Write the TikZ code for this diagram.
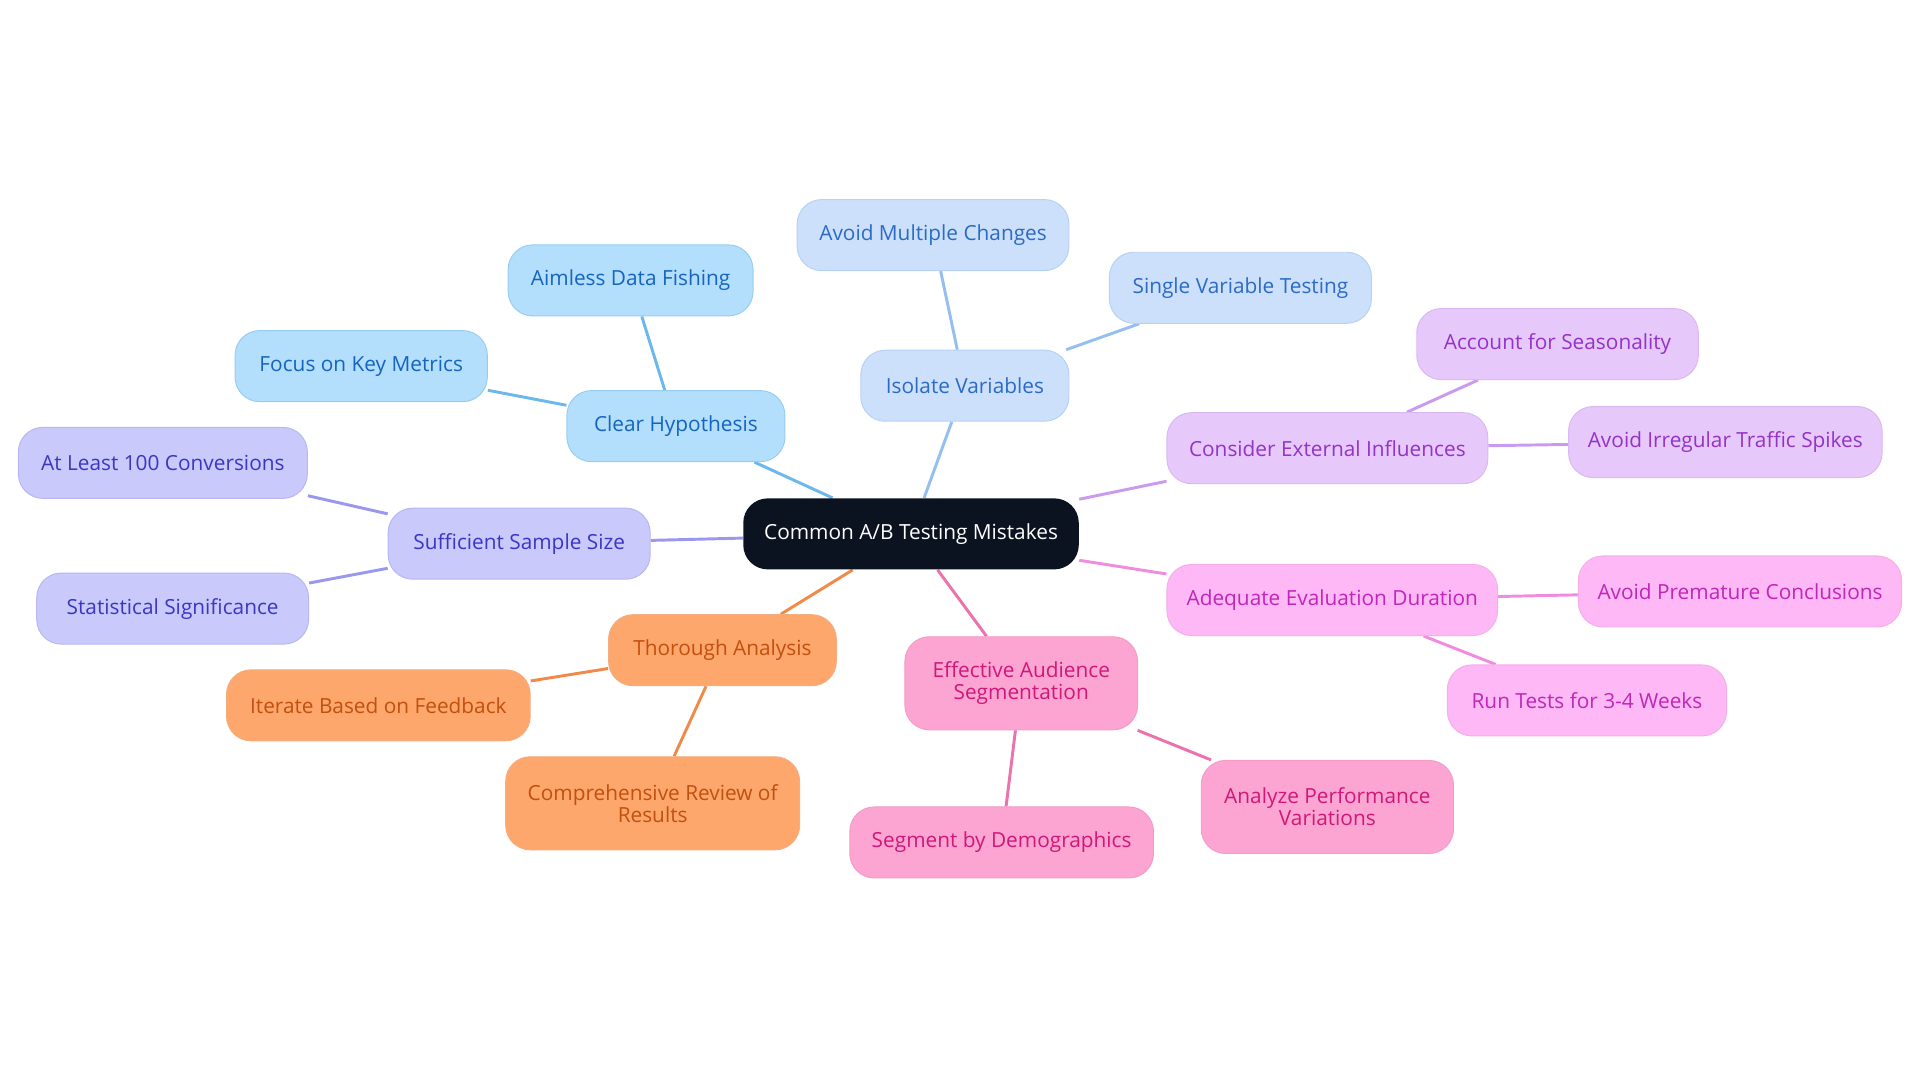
\documentclass[tikz,border=0pt]{standalone}
\usepackage{fontspec}
\setmainfont{Open Sans}
\usetikzlibrary{backgrounds}
\definecolor{rootfill}{HTML}{0B1220}
\definecolor{hypfill}{HTML}{B3DEFC}\definecolor{hypline}{HTML}{6CB8EC}\definecolor{hyptext}{HTML}{1565C0}
\definecolor{isofill}{HTML}{CCE0FB}\definecolor{isoline}{HTML}{94BFEF}\definecolor{isotext}{HTML}{2C6BC5}
\definecolor{extfill}{HTML}{E6C8FA}\definecolor{extline}{HTML}{C99AEE}\definecolor{exttext}{HTML}{9333C8}
\definecolor{durfill}{HTML}{FDB8F5}\definecolor{durline}{HTML}{F08CE0}\definecolor{durtext}{HTML}{C026B8}
\definecolor{segfill}{HTML}{FCA5D2}\definecolor{segline}{HTML}{EC72AE}\definecolor{segtext}{HTML}{D0177A}
\definecolor{anafill}{HTML}{FDA76C}\definecolor{analine}{HTML}{EF8A4A}\definecolor{anatext}{HTML}{C2500F}
\definecolor{samfill}{HTML}{C9C9FB}\definecolor{samline}{HTML}{9A98EE}\definecolor{samtext}{HTML}{3A37C4}

\begin{document}
\begin{tikzpicture}[x=0.5pt,y=-0.5pt,
  box/.style={rounded corners=10pt, minimum height=29pt, align=center, inner sep=2pt,
    font=\fontsize{8.5}{9}\selectfont},
  hyp/.style={box, fill=hypfill, draw=hypline!70, text=hyptext},
  iso/.style={box, fill=isofill, draw=isoline!70, text=isotext},
  ext/.style={box, fill=extfill, draw=extline!70, text=exttext},
  dur/.style={box, fill=durfill, draw=durline!70, text=durtext},
  seg/.style={box, fill=segfill, draw=segline!70, text=segtext},
  ana/.style={box, fill=anafill, draw=analine!70, text=anatext},
  sam/.style={box, fill=samfill, draw=samline!70, text=samtext},
  link/.style={line width=1.2pt}]

\useasboundingbox (0,0) rectangle (1568,884);

\node[box, fill=rootfill, text=white, minimum width=137pt] (root) at (744,436) {Common A/B Testing Mistakes};

\node[hyp, minimum width=89pt] (hyp) at (552,348) {Clear Hypothesis};
\node[hyp, minimum width=100pt] (fish) at (515,229) {Aimless Data Fishing};
\node[hyp, minimum width=103pt] (keym) at (295,299) {Focus on Key Metrics};

\node[iso, minimum width=85pt] (iso) at (788,315) {Isolate Variables};
\node[iso, minimum width=111pt] (multi) at (762,192) {Avoid Multiple Changes};
\node[iso, minimum width=107pt] (single) at (1013,235) {Single Variable Testing};

\node[ext, minimum width=131pt] (ext) at (1084,366) {Consider External Influences};
\node[ext, minimum width=115pt] (season) at (1272,281) {Account for Seasonality};
\node[ext, minimum width=128pt] (spike) at (1409,361) {Avoid Irregular Traffic Spikes};

\node[dur, minimum width=135pt] (dur) at (1088,490) {Adequate Evaluation Duration};
\node[dur, minimum width=132pt] (prem) at (1421,483) {Avoid Premature Conclusions};
\node[dur, minimum width=114pt] (weeks) at (1296,572) {Run Tests for 3-4 Weeks};

\node[seg, minimum width=95pt, minimum height=38pt] (seg) at (834,558) {Effective Audience\\Segmentation};
\node[seg, minimum width=124pt] (demo) at (818,688) {Segment by Demographics};
\node[seg, minimum width=103pt, minimum height=38pt] (perf) at (1084,659) {Analyze Performance\\Variations};

\node[ana, minimum width=93pt] (ana) at (590,531) {Thorough Analysis};
\node[ana, minimum width=124pt] (iter) at (309,576) {Iterate Based on Feedback};
\node[ana, minimum width=120pt, minimum height=38pt] (review) at (533,656) {Comprehensive Review of\\Results};

\node[sam, minimum width=107pt] (sam) at (424,444) {Sufficient Sample Size};
\node[sam, minimum width=118pt] (conv) at (133,378) {At Least 100 Conversions};
\node[sam, minimum width=111pt] (stat) at (141,497) {Statistical Significance};

\begin{scope}[on background layer]
\draw[link, hypline] (root) -- (hyp) (hyp) -- (fish) (hyp) -- (keym);
\draw[link, isoline] (root) -- (iso) (iso) -- (multi) (iso) -- (single);
\draw[link, extline] (root) -- (ext) (ext) -- (season) (ext) -- (spike);
\draw[link, durline] (root) -- (dur) (dur) -- (prem) (dur) -- (weeks);
\draw[link, segline] (root) -- (seg) (seg) -- (demo) (seg) -- (perf);
\draw[link, analine] (root) -- (ana) (ana) -- (iter) (ana) -- (review);
\draw[link, samline] (root) -- (sam) (sam) -- (conv) (sam) -- (stat);
\end{scope}

\end{tikzpicture}
\end{document}
